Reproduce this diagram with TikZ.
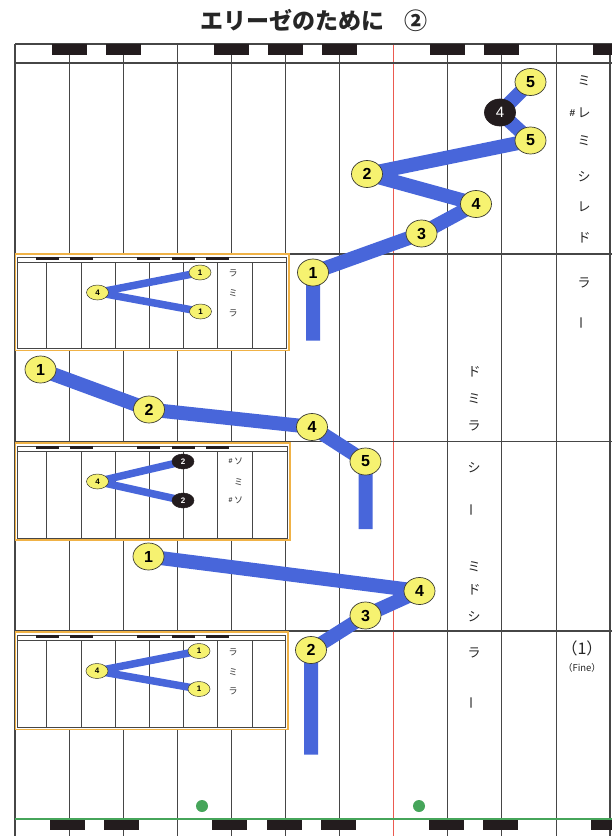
\documentclass[tikz,border=0pt]{standalone}
\usepackage{fontspec}
\usetikzlibrary{shapes.geometric}
\newfontfamily\jp{Noto Sans CJK JP}
\newfontfamily\numf{Liberation Sans}
\definecolor{handblue}{RGB}{72,102,218}
\definecolor{fyellow}{RGB}{246,242,112}
\definecolor{edgegray}{RGB}{60,60,50}
\definecolor{gridgray}{RGB}{70,70,70}
\definecolor{insetorange}{RGB}{240,178,70}
\definecolor{redline}{RGB}{235,90,80}
\definecolor{greenline}{RGB}{70,165,90}
\definecolor{keyblack}{RGB}{35,28,30}
\pgfdeclarelayer{bg}
\pgfdeclarelayer{lines}
\pgfsetlayers{bg,lines,main}
\tikzset{
  grid/.style={draw=gridgray, line width=0.9pt},
  frameline/.style={draw=gridgray, line width=1.6pt},
  blackkey/.style={fill=keyblack, draw=none},
  finger/.style={ellipse, draw=edgegray, fill=fyellow, line width=0.7pt,
    minimum width=31pt, minimum height=27pt, inner sep=0pt,
    font=\numf\bfseries\fontsize{16}{16}\selectfont},
  fingerdark/.style={finger, fill=keyblack, draw=keyblack, text=white,
    font=\numf\fontsize{15}{15}\selectfont},
  mini/.style={ellipse, draw=edgegray, fill=fyellow, line width=0.5pt,
    minimum width=22pt, minimum height=15pt, inner sep=0pt,
    font=\numf\bfseries\fontsize{8}{8}\selectfont},
  minidark/.style={mini, fill=keyblack, draw=keyblack, text=white},
  hand/.style={draw=handblue, line width=14pt, line join=round, line cap=butt},
  minihand/.style={draw=handblue, line width=7.5pt, line join=round, line cap=butt},
  note/.style={font=\jp\fontsize{13}{13}\selectfont, inner sep=0pt, text=black!85},
  mininote/.style={font=\jp\fontsize{9}{9}\selectfont, inner sep=0pt, text=black!80},
  sharp/.style={font=\numf\bfseries\fontsize{10}{10}\selectfont, inner sep=0pt, text=black!85},
  minisharp/.style={font=\numf\bfseries\fontsize{7}{7}\selectfont, inner sep=0pt, text=black!80},
  insetbox/.style={fill=white, draw=insetorange, line width=1.8pt},
  dot/.style={circle, fill=greenline, minimum size=12pt, inner sep=0pt}
}
\newcommand\drawinset[3]{%
  \pgfmathsetmacro\itop{#1}\pgfmathsetmacro\ibot{#2}\pgfmathsetmacro\iright{#3}%
  \pgfmathsetmacro\iin{#1+3}\pgfmathsetmacro\iline{#1+8}%
  \pgfmathsetmacro\ikey{#1+5.8}\pgfmathsetmacro\iinb{#2-2}\pgfmathsetmacro\iinr{#3-2.5}%
  \path[insetbox] (15.5,\itop) rectangle (\iright,\ibot);
  \draw[grid, line width=0.8pt] (17.5,\iin) rectangle (\iinr,\iinb);
  \draw[grid, line width=0.7pt] (17.5,\iline) -- (\iinr,\iline);
  \foreach \vx in {46,81,115,149,183,217.5,252}{
    \draw[grid, line width=0.7pt] (\vx,\iline) -- (\vx,\iinb);}
  \foreach \kx in {47.5,81.5,148.5,183,217}{
    \fill[blackkey] ({\kx-11.5},\iin) rectangle ({\kx+11.5},\ikey);}
}
\begin{document}
\begin{tikzpicture}[x=1pt,y=-1pt]
\useasboundingbox (0,0) rectangle (612,836);
% title
\node[font=\jp\bfseries\fontsize{23}{23}\selectfont, text=black!85] (title) at (314,20) {エリーゼのために\hspace{0.9em}②};

\begin{pgfonlayer}{bg}
\fill[white] (0,0) rectangle (612,836);
% vertical key lines
\foreach \k in {1,...,6,8,9,10}{
  \draw[grid] ({15+54.1*\k},44) -- ({15+54.1*\k},836);}
\draw[draw=redline, line width=0.9pt] ({15+54.1*7},44) -- ({15+54.1*7},836);
\draw[frameline] (15,44) -- (15,836);
\draw[frameline] (610,44) -- (610,836);
% horizontal lines
\draw[frameline] (15,44) -- (612,44);
\draw[grid, line width=1.2pt] (15,63) -- (612,63);
\draw[grid, line width=1.2pt] (15,254) -- (612,254);
\draw[grid, line width=1.2pt] (15,441.5) -- (612,441.5);
\draw[grid, line width=1.2pt] (15,631) -- (612,631);
% top black keys
\foreach \k in {1,2,4,5,6,8,9,11}{
  \fill[blackkey] ({15+54.1*\k-17.5},44) rectangle ({15+54.1*\k+17.5},54.5);}
% bottom keyboard
\draw[draw=greenline, line width=1.6pt] (15,819) -- (612,819);
\foreach \k in {1,2,4,5,6,8,9,11}{
  \fill[blackkey] ({15+54.1*\k-19},819.8) rectangle ({15+54.1*\k+16},830);}
% insets
\drawinset{254}{350.5}{289}
\drawinset{443}{540}{290}
\drawinset{632}{729.5}{288}
\end{pgfonlayer}

% green dots
\node[dot] (g1) at (202,806) {};
\node[dot] (g2) at (419,806) {};

% row 1
\node[finger] (a5) at (530.5,82) {5};
\node[fingerdark] (a4b) at (500,112.5) {4};
\node[finger] (a5b) at (530.5,140.5) {5};
\node[finger] (a2) at (367,174) {2};
\node[finger] (a4) at (476,204) {4};
\node[finger] (a3) at (421.5,233.5) {3};
\node[finger] (a1) at (313,272.5) {1};
\coordinate (aend) at (313,340.5);
% row 2
\node[finger] (b1) at (40.5,369.5) {1};
\node[finger] (b2) at (149,409.5) {2};
\node[finger] (b4) at (312,427) {4};
\node[finger] (b5) at (365.5,461.5) {5};
\coordinate (bend) at (365.5,529);
% row 3
\node[finger] (c1) at (148.5,556.5) {1};
\node[finger] (c4) at (419.5,591) {4};
\node[finger] (c3) at (365.5,615.5) {3};
\node[finger] (c2) at (311,650) {2};
\coordinate (cend) at (311,754.5);

% insets content
\node[mini] (p4) at (97.5,292.5) {4};
\node[mini] (p1a) at (200,272.5) {1};
\node[mini] (p1b) at (200.5,311.5) {1};
\node[mininote] (pt1) at (233,273) {ラ};
\node[mininote] (pt2) at (233,293) {ミ};
\node[mininote] (pt3) at (233,313) {ラ};

\node[mini] (q4) at (97.5,481.5) {4};
\node[minidark] (q2a) at (183,461.5) {2};
\node[minidark] (q2b) at (183,500.5) {2};
\node[mininote] (qt1) at (238.5,461.5) {ソ};
\node[minisharp, anchor=east] (qs1) at (qt1.west) {\#\,};
\node[mininote] (qt2) at (238.5,482.5) {ミ};
\node[mininote] (qt3) at (238.5,500.5) {ソ};
\node[minisharp, anchor=east] (qs3) at (qt3.west) {\#\,};

\node[mini] (r4) at (97,671) {4};
\node[mini] (r1a) at (199,651) {1};
\node[mini] (r1b) at (199,689) {1};
\node[mininote] (rt1) at (233,652) {ラ};
\node[mininote] (rt2) at (233,672) {ミ};
\node[mininote] (rt3) at (233,691) {ラ};

% hand paths
\begin{pgfonlayer}{lines}
\draw[hand] (a5.center) -- (a4b.center) -- (a5b.center) -- (a2.center) -- (a4.center) -- (a3.center) -- (a1.center) -- (aend);
\draw[hand] (b1.center) -- (b2.center) -- (b4.center) -- (b5.center) -- (bend);
\draw[hand] (c1.center) -- (c4.center) -- (c3.center) -- (c2.center) -- (cend);
\draw[minihand] (p1a.center) -- (p4.center) -- (p1b.center);
\draw[minihand] (q2a.center) -- (q4.center) -- (q2b.center);
\draw[minihand] (r1a.center) -- (r4.center) -- (r1b.center);
\end{pgfonlayer}

% right column notes
\node[note] (n1) at (584,81) {ミ};
\node[note] (n2) at (584,113) {レ};
\node[sharp, anchor=east] (n2s) at ([xshift=-2pt]n2.west) {\#};
\node[note] (n3) at (584,141) {ミ};
\node[note] (n4) at (584,177) {シ};
\node[note] (n5) at (584,207) {レ};
\node[note] (n6) at (584,238) {ド};
\node[note] (n7) at (584,283) {ラ};
\node[note, rotate=90] (n8) at (584,323) {ー};

% middle column notes
\node[note] (m1) at (474,372) {ド};
\node[note] (m2) at (474,399) {ミ};
\node[note] (m3) at (474,426) {ラ};
\node[note] (m4) at (474,468) {シ};
\node[note, rotate=90] (m5) at (474,510) {ー};
\node[note] (m6) at (474,567) {ミ};
\node[note] (m7) at (474,590) {ド};
\node[note] (m8) at (474,617) {シ};
\node[note] (m9) at (474,653) {ラ};
\node[note, rotate=90] (m10) at (474,703) {ー};

% fine
\node[font=\jp\fontsize{16}{16}\selectfont, inner sep=0pt, text=black!85] (fine1) at (582,648) {（1）};
\node[font=\jp\fontsize{9.5}{9.5}\selectfont, inner sep=0pt, text=black!85] (fine2) at (582,668) {（Fine）};
\end{tikzpicture}
\end{document}
